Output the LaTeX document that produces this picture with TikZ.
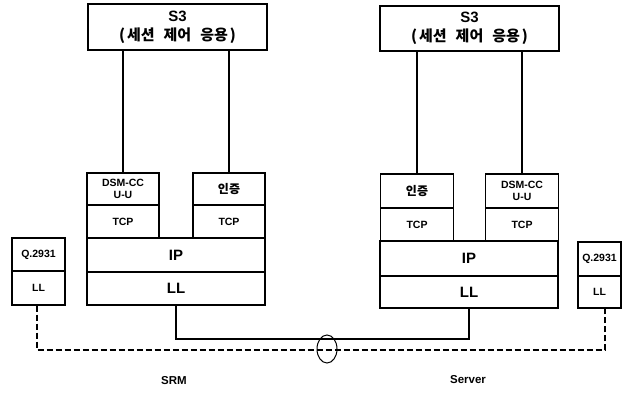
\documentclass[tikz,border=0pt]{standalone}
\usepackage{fontspec}
\setmainfont{Liberation Sans}
\newfontfamily\kr{Noto Sans CJK KR}
\usetikzlibrary{shapes.geometric}
\newcommand{\sthree}{{\fontsize{15}{17}\selectfont\bfseries S3}\\[5pt]{\fontsize{15}{16}\selectfont\kr\bfseries (\hspace{2pt}세션\hspace{9pt}제어\hspace{9pt}응용\hspace{2pt})}}
\begin{document}
\begin{tikzpicture}[x=1pt,y=-1pt,
  box/.style={draw, line width=1.1pt, inner sep=0pt, align=center},
  conn/.style={line width=1.6pt},
  dashconn/.style={line width=1.6pt, dash pattern=on 6pt off 3pt},
  big/.style={font=\fontsize{15}{16}\selectfont\bfseries},
  small/.style={font=\fontsize{10.5}{12}\selectfont\bfseries},
  krs/.style={font=\fontsize{12}{13}\selectfont\kr\bfseries},
  lbl/.style={font=\fontsize{11.5}{12}\selectfont\bfseries}]
\useasboundingbox (0,0) rectangle (623,396);
% left stack (SRM)
\node[box, minimum width=179pt, minimum height=46pt] (s3l) at (177.5,27) {\sthree};
\node[box, small, minimum width=72pt, minimum height=32pt] (dsml) at (123,189) {DSM-CC\\U-U};
\node[box, small, minimum width=72pt, minimum height=33pt] (tcpl1) at (123,221.5) {TCP};
\node[box, krs, minimum width=72pt, minimum height=32pt] (authl) at (229,189) {인증};
\node[box, small, minimum width=72pt, minimum height=33pt] (tcpl2) at (229,221.5) {TCP};
\node[box, big, minimum width=178pt, minimum height=34pt] (ipl) at (176,255) {IP};
\node[box, big, minimum width=178pt, minimum height=33pt] (lll) at (176,288.5) {LL};
\node[box, small, minimum width=53pt, minimum height=33pt] (ql) at (38.5,254.5) {Q.2931};
\node[box, small, minimum width=53pt, minimum height=34pt] (qll) at (38.5,288) {LL};
% right stack (Server)
\node[box, minimum width=179pt, minimum height=45pt] (s3r) at (469.5,28.5) {\sthree};
\node[box, krs, minimum width=73pt, minimum height=34pt] (authr) at (417,191) {인증};
\node[box, small, minimum width=73pt, minimum height=33pt] (tcpr1) at (417,224.5) {TCP};
\node[box, small, minimum width=73pt, minimum height=34pt] (dsmr) at (522,191) {DSM-CC\\U-U};
\node[box, small, minimum width=73pt, minimum height=33pt] (tcpr2) at (522,224.5) {TCP};
\node[box, big, minimum width=178pt, minimum height=35pt] (ipr) at (469,258.5) {IP};
\node[box, big, minimum width=178pt, minimum height=32pt] (llr) at (469,292) {LL};
\node[box, small, minimum width=43pt, minimum height=34pt] (qr) at (599.5,259) {Q.2931};
\node[box, small, minimum width=43pt, minimum height=32pt] (qrl) at (599.5,292) {LL};
% S3 connectors
\draw[conn] (dsml.north) -- (dsml.north |- s3l.south);
\draw[conn] (authl.north) -- (authl.north |- s3l.south);
\draw[conn] (authr.north) -- (authr.north |- s3r.south);
\draw[conn] (dsmr.north) -- (dsmr.north |- s3r.south);
% links
\coordinate (sy) at (0,339);
\coordinate (dy) at (0,350);
\coordinate (qls) at ([xshift=-1.5pt]qll.south);
\coordinate (qrs) at ([xshift=5.5pt]qrl.south);
\draw[conn] (lll.south) -- (lll.south |- sy) -- (llr.south |- sy) -- (llr.south);
\draw[dashconn] (qls) -- (qls |- dy) -- (qrs |- dy) -- (qrs);
\node[draw, ellipse, line width=1pt, minimum width=20pt, minimum height=28pt, inner sep=0pt] (bundle) at (327,349) {};
% labels
\node[lbl] (srm) at (174,381) {SRM};
\node[lbl] (server) at (468,380) {Server};
\end{tikzpicture}
\end{document}
